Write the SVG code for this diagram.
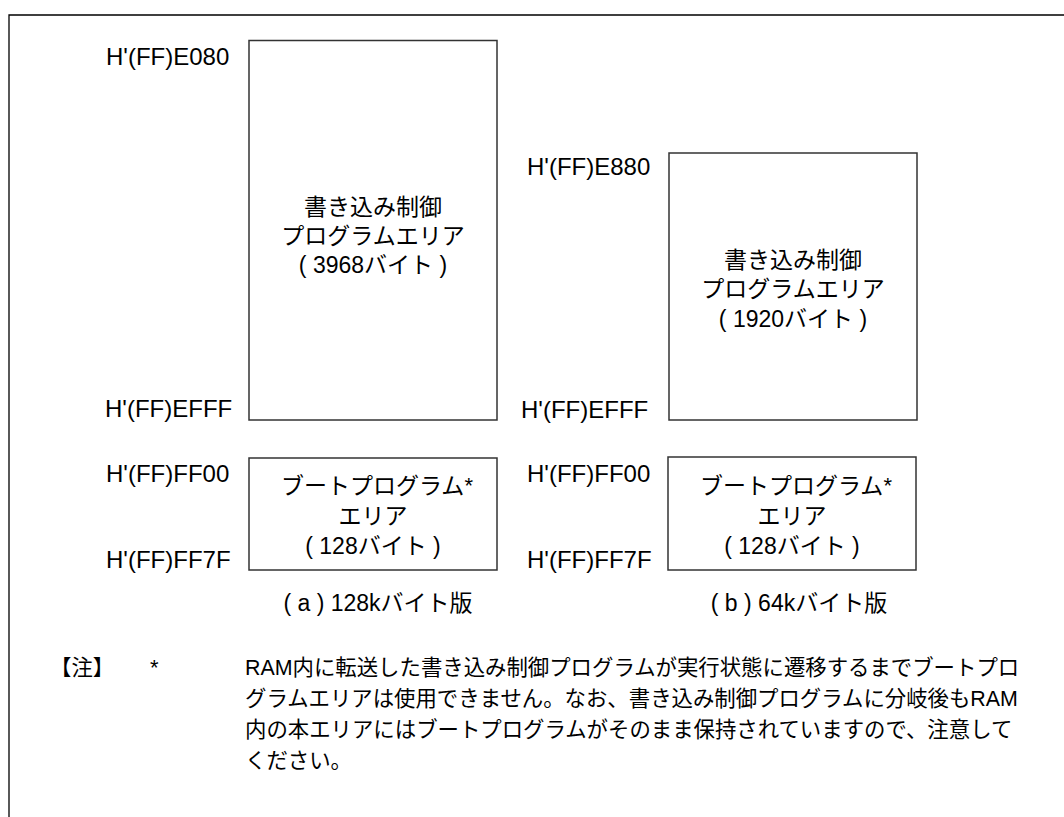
<svg xmlns="http://www.w3.org/2000/svg" width="1064" height="817" viewBox="0 0 1064 817">
<style>
text{font-family:"Liberation Sans","Noto Sans CJK JP",sans-serif;fill:#000}
.lb{font-size:24px}
.bx{font-size:23px;text-anchor:middle}
.nt{font-size:21.4px}
.cap{font-size:23px;text-anchor:middle}
.box{fill:#fff;stroke:#333;stroke-width:1.5}
.frame{fill:none;stroke:#000;stroke-width:1.3}
.ast{font-size:22px}
</style>
<g id="frame">
<path class="frame" d="M9,817 V15 H1064"/>
</g>
<g id="connectors"></g>
<g id="a-write">
<rect class="box" x="249" y="40.5" width="248" height="379.5"/>
<text class="bx" x="373" y="215">書き込み制御</text>
<text class="bx" x="373" y="244">プログラムエリア</text>
<text class="bx" x="373" y="273">( 3968バイト )</text>
</g>
<g id="a-boot">
<rect class="box" x="249" y="458" width="248" height="112"/>
<text class="bx" x="377" y="494">ブートプログラム<tspan class="ast" dy="-1">*</tspan></text>
<text class="bx" x="373" y="524">エリア</text>
<text class="bx" x="373" y="554">( 128バイト )</text>
</g>
<g id="a-labels">
<text class="lb" x="106" y="65">H'(FF)E080</text>
<text class="lb" x="105" y="417">H'(FF)EFFF</text>
<text class="lb" x="106" y="482">H'(FF)FF00</text>
<text class="lb" x="106" y="568">H'(FF)FF7F</text>
<text class="cap" x="378" y="611">( a ) 128kバイト版</text>
</g>
<g id="b-write">
<rect class="box" x="669" y="153" width="248" height="267"/>
<text class="bx" x="793" y="268">書き込み制御</text>
<text class="bx" x="793" y="297">プログラムエリア</text>
<text class="bx" x="793" y="327">( 1920バイト )</text>
</g>
<g id="b-boot">
<rect class="box" x="668" y="457" width="248" height="113"/>
<text class="bx" x="796" y="494">ブートプログラム<tspan class="ast" dy="-1">*</tspan></text>
<text class="bx" x="792" y="524">エリア</text>
<text class="bx" x="792" y="554">( 128バイト )</text>
</g>
<g id="b-labels">
<text class="lb" x="527" y="175">H'(FF)E880</text>
<text class="lb" x="521" y="418">H'(FF)EFFF</text>
<text class="lb" x="527" y="482">H'(FF)FF00</text>
<text class="lb" x="527" y="568">H'(FF)FF7F</text>
<text class="cap" x="799" y="611">( b ) 64kバイト版</text>
</g>
<g id="note">
<text class="nt" x="50" y="675">【注】<tspan x="150" class="ast">*</tspan></text>
<text class="nt" x="245" y="675">RAM内に転送した書き込み制御プログラムが実行状態に遷移するまでブートプロ</text>
<text class="nt" x="245" y="706">グラムエリアは使用できません。なお、書き込み制御プログラムに分岐後もRAM</text>
<text class="nt" x="245" y="737">内の本エリアにはブートプログラムがそのまま保持されていますので、注意して</text>
<text class="nt" x="245" y="768">ください。</text>
</g>
</svg>
